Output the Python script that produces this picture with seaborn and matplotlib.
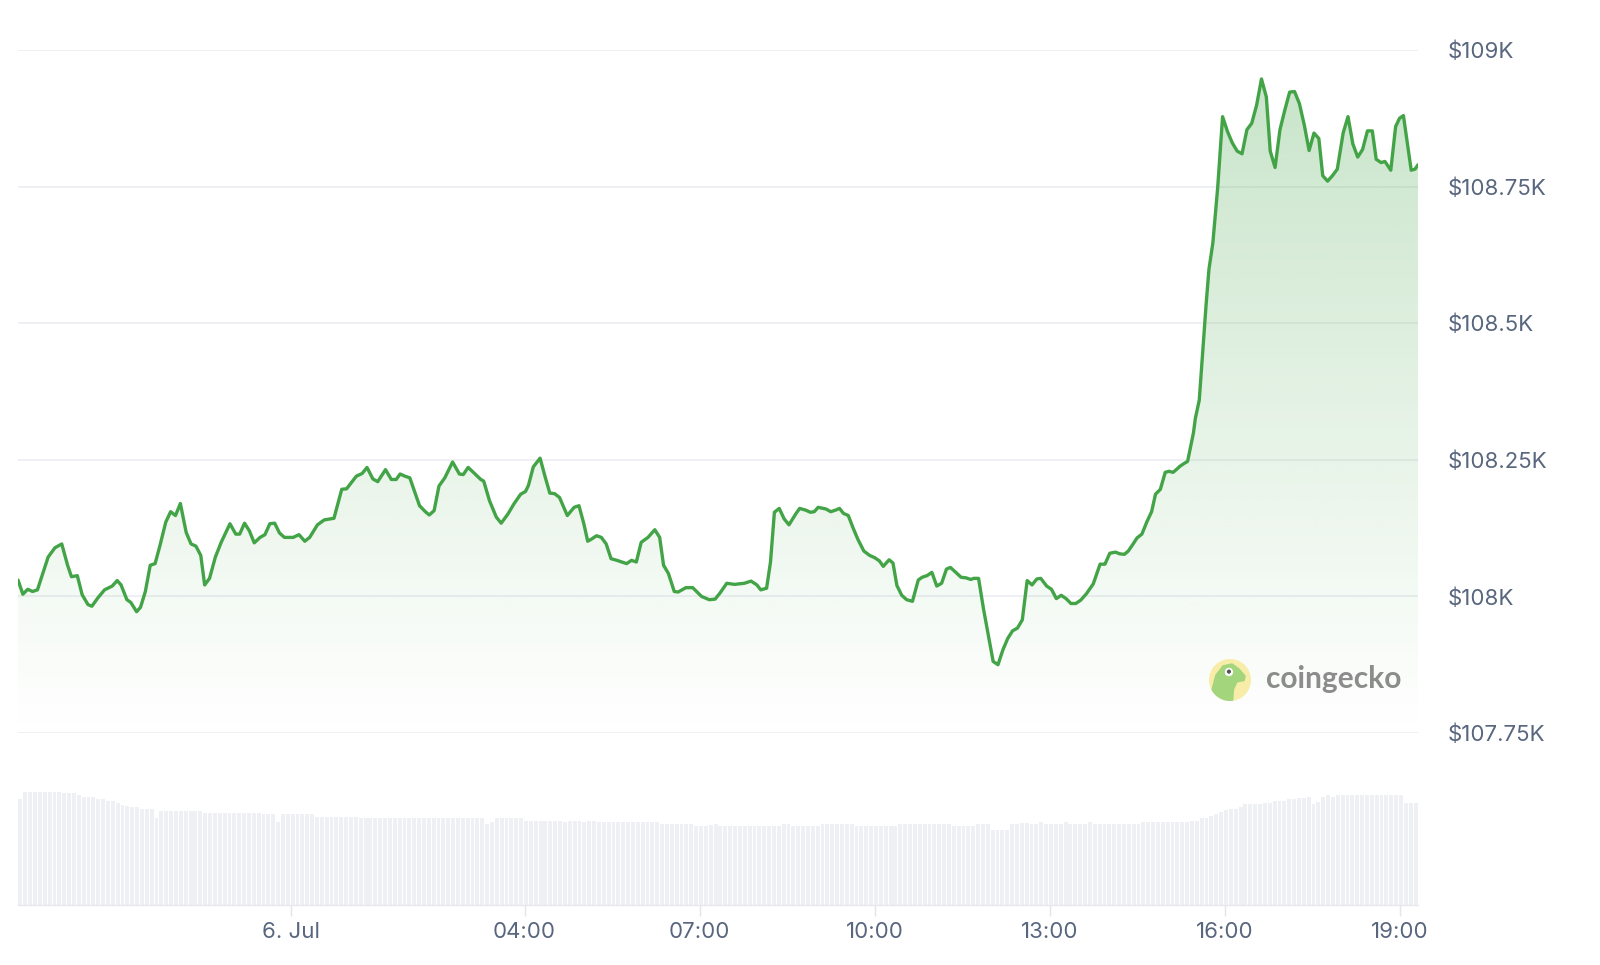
import numpy as np
import pandas as pd
import matplotlib
matplotlib.use("Agg")
import matplotlib.pyplot as plt
import seaborn as sns
from matplotlib.patches import Circle, Polygon
from matplotlib.colors import to_rgb

# ---------------- data ----------------
start_time = "2025-07-05 19:19"

# minutes after start_time
minutes = [
    0, 5, 10, 15, 20, 31, 38, 45, 51, 55,
    61, 66, 72, 76, 82, 89, 97, 102, 106, 112,
    116, 122, 126, 131, 136, 141, 146, 152, 157, 162,
    167, 173, 178, 183, 188, 192, 197, 203, 209, 218,
    224, 228, 233, 238, 243, 249, 254, 259, 264, 269,
    274, 279, 283, 289, 295, 300, 308, 315, 325, 333,
    338, 348, 354, 359, 365, 370, 378, 384, 389, 393,
    398, 403, 413, 419, 423, 428, 433, 439, 447, 454,
    458, 463, 469, 476, 479, 485, 492, 497, 504, 510,
    517, 522, 525, 530, 537, 542, 547, 552, 557, 565,
    572, 577, 582, 586, 590, 595, 600, 605, 610, 616,
    621, 626, 631, 636, 641, 648, 655, 660, 664, 669,
    675, 679, 687, 694, 703, 711, 717, 722, 729, 737,
    747, 754, 760, 764, 770, 774, 778, 783, 788, 793,
    800, 804, 810, 815, 819, 823, 831, 836, 841, 845,
    849, 854, 859, 864, 870, 876, 881, 886, 890, 896,
    900, 904, 909, 914, 920, 926, 930, 935, 940, 945,
    950, 955, 959, 964, 970, 975, 980, 983, 988, 993,
    998, 1003, 1008, 1013, 1018, 1023, 1028, 1033, 1038, 1043,
    1048, 1052, 1058, 1063, 1068, 1073, 1078, 1083, 1088, 1093,
    1099, 1106, 1113, 1118, 1123, 1129, 1133, 1138, 1142, 1147,
    1151, 1156, 1161, 1166, 1170, 1175, 1180, 1184, 1188, 1192,
    1195, 1200, 1203, 1209, 1211, 1215, 1218, 1222, 1225, 1229,
    1234, 1239, 1244, 1249, 1254, 1259, 1264, 1269, 1274, 1279,
    1284, 1288, 1293, 1298, 1303, 1308, 1313, 1318, 1323, 1328,
    1333, 1338, 1342, 1347, 1352, 1357, 1363, 1368, 1373, 1378,
    1383, 1388, 1393, 1397, 1402, 1406, 1412, 1417, 1421, 1425,
    1429, 1433, 1437, 1440,
]

prices = [
    108030, 108004, 108013, 108009, 108012, 108072, 108089, 108096, 108057, 108036,
    108038, 108003, 107985, 107982, 107997, 108012, 108019, 108029, 108021, 107994,
    107989, 107972, 107980, 108009, 108057, 108060, 108093, 108136, 108155, 108148,
    108170, 108117, 108096, 108092, 108075, 108021, 108033, 108072, 108099, 108133,
    108114, 108114, 108134, 108120, 108098, 108108, 108113, 108133, 108134, 108116,
    108108, 108108, 108108, 108113, 108101, 108108, 108131, 108140, 108143, 108196,
    108197, 108220, 108225, 108236, 108215, 108210, 108232, 108214, 108214, 108224,
    108220, 108217, 108166, 108155, 108149, 108157, 108202, 108217, 108246, 108224,
    108223, 108236, 108226, 108214, 108211, 108175, 108145, 108134, 108151, 108169,
    108187, 108192, 108203, 108237, 108253, 108220, 108189, 108188, 108181, 108148,
    108163, 108166, 108133, 108101, 108105, 108111, 108108, 108096, 108069, 108066,
    108063, 108060, 108066, 108063, 108099, 108108, 108122, 108108, 108057, 108042,
    108009, 108008, 108016, 108016, 108000, 107994, 107995, 108006, 108024, 108022,
    108024, 108028, 108021, 108012, 108015, 108063, 108154, 108161, 108142, 108131,
    108151, 108161, 108158, 108154, 108155, 108163, 108160, 108155, 108158, 108161,
    108152, 108148, 108125, 108104, 108083, 108075, 108071, 108065, 108055, 108067,
    108061, 108020, 108002, 107994, 107991, 108030, 108035, 108038, 108044, 108019,
    108024, 108050, 108053, 108045, 108035, 108034, 108031, 108033, 108033, 107978,
    107929, 107881, 107875, 107902, 107923, 107937, 107942, 107957, 108029, 108021,
    108032, 108033, 108019, 108013, 107996, 108002, 107996, 107987, 107987, 107993,
    108005, 108023, 108059, 108059, 108079, 108081, 108078, 108077, 108083, 108096,
    108107, 108114, 108136, 108155, 108187, 108196, 108227, 108229, 108227, 108233,
    108238, 108244, 108247, 108299, 108326, 108359, 108434, 108533, 108599, 108647,
    108749, 108878, 108851, 108830, 108815, 108810, 108854, 108866, 108899, 108947,
    108914, 108815, 108785, 108854, 108890, 108923, 108924, 108902, 108863, 108816,
    108848, 108838, 108770, 108760, 108770, 108782, 108848, 108878, 108828, 108804,
    108818, 108852, 108852, 108800, 108794, 108796, 108780, 108860, 108875, 108880,
    108830, 108780, 108782, 108790,
]

# one bar per 5 minutes (relative volume)
volume = [
    105.7, 113.3, 113.3, 113.3, 113.3, 113.3, 113.3, 113.3, 112.7, 111.7, 111.7, 111.7,
    110.0, 108.3, 108.3, 107.7, 105.7, 105.7, 104.0, 104.0, 102.0, 100.0, 99.0, 98.3,
    98.3, 96.0, 96.0, 96.0, 86.7, 94.3, 94.3, 94.3, 94.3, 94.3, 94.3, 94.3,
    94.3, 94.3, 92.3, 92.3, 92.3, 92.3, 92.3, 92.3, 92.3, 92.3, 92.3, 92.3,
    92.3, 92.3, 90.7, 90.7, 90.7, 82.7, 90.7, 90.7, 90.7, 90.7, 90.7, 90.7,
    90.7, 88.3, 88.3, 88.3, 88.3, 88.3, 88.3, 88.3, 88.3, 88.3, 86.7, 86.7,
    86.7, 86.7, 86.7, 86.7, 86.7, 86.7, 86.7, 86.7, 86.7, 86.7, 86.7, 86.7,
    86.7, 86.7, 86.7, 86.7, 86.7, 86.7, 86.7, 86.7, 86.7, 86.7, 86.7, 86.7,
    81.0, 83.0, 86.7, 86.7, 86.7, 86.7, 86.7, 86.7, 84.3, 84.3, 84.3, 84.3,
    84.3, 84.3, 84.3, 84.3, 83.3, 84.3, 84.3, 84.3, 82.7, 84.3, 84.3, 82.7,
    82.7, 82.7, 82.7, 82.7, 82.7, 82.7, 82.7, 82.7, 82.7, 82.7, 82.7, 82.7,
    80.7, 80.7, 80.7, 80.7, 80.7, 80.7, 80.7, 79.3, 79.3, 79.3, 80.0, 80.7,
    78.7, 78.7, 78.7, 78.7, 78.7, 78.7, 78.7, 78.7, 78.7, 78.7, 78.7, 78.7,
    78.7, 80.7, 80.7, 78.7, 78.7, 78.7, 78.7, 78.7, 78.7, 80.7, 80.7, 80.7,
    80.7, 80.7, 80.7, 80.7, 78.7, 78.7, 78.7, 78.7, 78.7, 78.7, 78.7, 78.7,
    78.7, 80.7, 80.7, 80.7, 80.7, 80.7, 80.7, 80.7, 80.7, 80.7, 80.7, 80.7,
    78.7, 78.7, 78.7, 78.7, 78.7, 80.7, 80.7, 80.7, 74.7, 74.7, 74.7, 74.7,
    80.7, 80.7, 82.3, 82.3, 81.3, 81.3, 82.7, 80.7, 80.7, 80.7, 80.7, 82.7,
    80.7, 80.7, 80.7, 80.7, 82.7, 80.7, 80.7, 80.7, 80.7, 80.7, 80.7, 80.7,
    80.7, 80.7, 80.7, 82.7, 82.7, 82.7, 82.7, 82.7, 82.7, 82.7, 82.7, 82.7,
    83.3, 84.3, 84.3, 86.7, 86.7, 89.0, 91.3, 93.3, 95.0, 96.3, 96.3, 98.3,
    100.7, 100.7, 100.7, 100.7, 102.3, 102.3, 104.0, 104.0, 104.0, 106.0, 106.0, 107.3,
    107.3, 108.3, 100.7, 102.7, 107.7, 110.0, 107.7, 110.0, 110.0, 110.0, 110.0, 110.0,
    110.0, 110.0, 110.0, 110.0, 110.0, 110.0, 110.0, 110.0, 110.0, 102.3, 102.3, 102.3,
]
bar_step_minutes = 5

tick_times = ["2025-07-06 00:00", "2025-07-06 04:00", "2025-07-06 07:00",
              "2025-07-06 10:00", "2025-07-06 13:00", "2025-07-06 16:00",
              "2025-07-06 19:00"]
tick_labels = ["6. Jul", "04:00", "07:00", "10:00", "13:00", "16:00", "19:00"]

price_ticks = [107750, 108000, 108250, 108500, 108750, 109000]
price_labels = ["\\$107.75K", "\\$108K", "\\$108.25K", "\\$108.5K", "\\$108.75K", "\\$109K"]

# ---------------- style ----------------
sns.set_theme(style="white")
plt.rcParams["font.family"] = ["Inter", "DejaVu Sans"]

LINE = "#43a447"
TEXT = "#58667e"
GRID = "#eceef1"
BAR = "#eef0f4"

W, H = 1600, 965
fig = plt.figure(figsize=(W / 100, H / 100), dpi=100)
fig.patch.set_facecolor("white")


def frame(x0, y0, x1, y1):
    return [x0 / W, 1 - y1 / H, (x1 - x0) / W, (y1 - y0) / H]


ax = fig.add_axes(frame(18, 50, 1418, 733))
axv = fig.add_axes(frame(18, 787, 1418, 905))

df = pd.DataFrame({"minute": minutes, "price": prices})
vol_df = pd.DataFrame({
    "minute": np.arange(len(volume)) * bar_step_minutes + bar_step_minutes / 2,
    "volume": volume,
})
total_minutes = len(volume) * bar_step_minutes
tick_minutes = ((pd.to_datetime(tick_times) - pd.Timestamp(start_time))
                .total_seconds() / 60).tolist()

y_lo, y_hi = price_ticks[0], price_ticks[-1]

# gradient fill under the line
poly = ax.fill_between(df["minute"], df["price"], y_lo, color="none", lw=0)
n = 256
rgba = np.zeros((n, 1, 4))
rgba[..., :3] = to_rgb(LINE)
rgba[..., 3] = np.linspace(0.30, 0.0, n).reshape(-1, 1)
img = ax.imshow(rgba, extent=[0, total_minutes, y_lo, y_hi], aspect="auto",
                origin="upper", zorder=1, interpolation="bilinear")
img.set_clip_path(poly.get_paths()[0], transform=ax.transData)

sns.lineplot(data=df, x="minute", y="price", ax=ax, color=LINE, lw=2.4,
             zorder=3)

ax.set_xlim(0, total_minutes)
ax.set_ylim(y_lo, y_hi)
ax.set_yticks(price_ticks)
ax.set_yticklabels(price_labels)
ax.yaxis.tick_right()
ax.tick_params(axis="y", length=0, pad=21, labelsize=16, labelcolor=TEXT)
ax.set_xticks([])
ax.set_xlabel("")
ax.set_ylabel("")
ax.grid(axis="y", color=GRID, lw=1.2, zorder=0)
for s in ax.spines.values():
    s.set_visible(False)
for lbl in ax.get_yticklabels():
    lbl.set_horizontalalignment("left")

# volume bars
sns.barplot(data=vol_df, x="minute", y="volume", ax=axv, native_scale=True,
            color=BAR, saturation=1, width=0.8, linewidth=0)
axv.set_xlim(0, total_minutes)
axv.set_ylim(0, 118)
axv.set_yticks([])
axv.set_xticks(tick_minutes)
axv.set_xticklabels(tick_labels)
axv.tick_params(axis="x", length=8, width=1, color="#e3e5ea", pad=4.5,
                labelsize=16, labelcolor=TEXT, bottom=True)
axv.set_xlabel("")
axv.set_ylabel("")
for k, s in axv.spines.items():
    s.set_visible(k == "bottom")
axv.spines["bottom"].set_color("#e6e8ec")
axv.spines["bottom"].set_linewidth(1)

# watermark
logo = fig.add_axes(frame(1209, 659, 1251, 701))
logo.set_xlim(-1, 1)
logo.set_ylim(-1, 1)
logo.set_aspect("equal")
logo.axis("off")
bg = Circle((0, 0), 1, fc="#f8eca9", ec="none")
logo.add_patch(bg)
body = Polygon([(-0.9, -0.5), (-0.7, 0.25), (-0.35, 0.7), (0.1, 0.8), (0.45, 0.55),
                (0.75, 0.2), (0.7, -0.05), (0.35, -0.12), (0.2, -0.45), (0.15, -1.05),
                (-0.6, -1.0)], closed=True, fc="#a3d57c", ec="none")
logo.add_patch(body)
body.set_clip_path(bg)
logo.add_patch(Circle((-0.05, 0.38), 0.2, fc="white", ec="none"))
logo.add_patch(Circle((-0.05, 0.4), 0.1, fc="#555555", ec="none"))
fig.text(1266 / W, 1 - 679 / H, "coingecko", fontsize=21.5, fontweight="bold",
         color="#8c8c8c", va="center", ha="left", family=["Lato", "DejaVu Sans"])

fig.savefig("out.png", dpi=100, facecolor="white")
